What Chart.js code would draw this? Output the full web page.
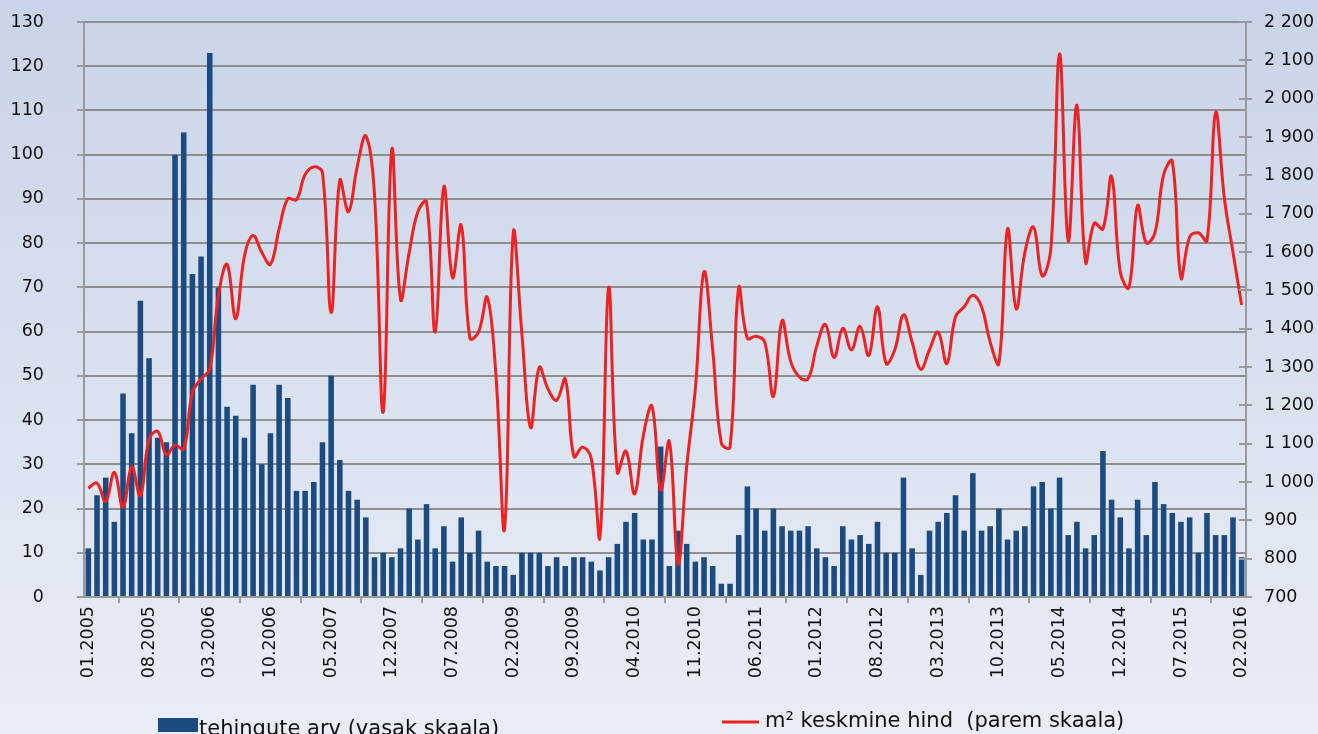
<!DOCTYPE html>
<html>
<head>
<meta charset="utf-8">
<title>Tehingute arv ja m² keskmine hind</title>
<script src="https://cdn.jsdelivr.net/npm/chart.js@4/dist/chart.umd.min.js"></script>
<style>
  html, body { margin: 0; padding: 0; background: #e6eaf4; }
  #wrap { position: relative; width: 1318px; height: 734px; }
</style>
</head>
<body>
<div id="wrap"><canvas id="chart" width="1318" height="734"></canvas></div>
<script>
// Monthly series 01.2005 .. 02.2016 (134 months)
const START_YEAR = 2005;
const MONTH_COUNT = 134;
const LABEL_STEP = 7; // every 7th month gets a label

const months = [];
for (let i = 0; i < MONTH_COUNT; i++) {
  const m = (i % 12) + 1;
  const y = START_YEAR + Math.floor(i / 12);
  months.push(String(m).padStart(2, '0') + '.' + y);
}

// tehingute arv (left scale)
const dealCounts = [
  11, 23, 27, 17, 46, 37, 67, 54, 36, 35, 100, 105, 73, 77, 123, 70, 43, 41, 36, 48,
  30, 37, 48, 45, 24, 24, 26, 35, 50, 31, 24, 22, 18, 9, 10, 9, 11, 20, 13, 21,
  11, 16, 8, 18, 10, 15, 8, 7, 7, 5, 10, 10, 10, 7, 9, 7, 9, 9, 8, 6,
  9, 12, 17, 19, 13, 13, 34, 7, 15, 12, 8, 9, 7, 3, 3, 14, 25, 20, 15, 20,
  16, 15, 15, 16, 11, 9, 7, 16, 13, 14, 12, 17, 10, 10, 27, 11, 5, 15, 17, 19,
  23, 15, 28, 15, 16, 20, 13, 15, 16, 25, 26, 20, 27, 14, 17, 11, 14, 33, 22, 18,
  11, 22, 14, 26, 21, 19, 17, 18, 10, 19, 14, 14, 18, 9
];

// m² keskmine hind (right scale)
const avgPrice = [
  984, 997, 949, 1025, 934, 1040, 964, 1111, 1132, 1071, 1096, 1086, 1233, 1269, 1294, 1487, 1568, 1426, 1589, 1643,
  1599, 1568, 1660, 1739, 1736, 1802, 1822, 1807, 1442, 1787, 1705, 1822, 1903, 1750, 1182, 1868, 1477, 1599, 1705, 1731,
  1391, 1771, 1533, 1670, 1375, 1391, 1482, 1280, 878, 1650, 1386, 1142, 1299, 1243, 1213, 1269, 1066, 1091, 1061, 857,
  1507, 1025, 1081, 969, 1121, 1198, 979, 1106, 786, 1040, 1243, 1548, 1345, 1101, 1091, 1507, 1375, 1380, 1365, 1223,
  1421, 1314, 1274, 1269, 1355, 1411, 1325, 1401, 1345, 1406, 1330, 1457, 1309, 1345, 1436, 1365, 1294, 1345, 1391, 1309,
  1431, 1457, 1487, 1457, 1365, 1309, 1660, 1452, 1599, 1665, 1538, 1609, 2117, 1629, 1983, 1573, 1675, 1660, 1797, 1548,
  1507, 1721, 1624, 1650, 1802, 1837, 1533, 1639, 1650, 1629, 1964, 1741, 1599, 1462
];

const LEFT_MIN = 0, LEFT_MAX = 130, LEFT_STEP = 10;
const RIGHT_MIN = 700, RIGHT_MAX = 2200, RIGHT_STEP = 100;

const BAR_COLOR = '#1b4b80';
const LINE_COLOR = '#ee2222';
const GRID_COLOR = '#8e8e8e';
const AXIS_COLOR = '#9a9a9a';
const TEXT_COLOR = '#111111';
const FONT = 'DejaVu Sans, Verdana, sans-serif';

// "2 200" style thousands separator
const formatThousands = (v) => {
  if (v < 1000) return String(v);
  return Math.floor(v / 1000) + ' ' + String(v % 1000).padStart(3, '0');
};

// Soft vertical gradient behind the whole picture
const backgroundPlugin = {
  id: 'bgGradient',
  beforeDraw(chart) {
    const { ctx, width, height } = chart;
    const g = ctx.createLinearGradient(0, 0, 0, height);
    g.addColorStop(0, '#c9d4e8');
    g.addColorStop(1, '#e9edf6');
    ctx.save();
    ctx.fillStyle = g;
    ctx.fillRect(0, 0, width, height);
    ctx.restore();
  }
};

// Right axis ticks cross the axis line: add the inner half
const crossTicksPlugin = {
  id: 'crossTicks',
  afterDraw(chart) {
    const scale = chart.scales.yRight;
    const { ctx } = chart;
    ctx.save();
    ctx.strokeStyle = AXIS_COLOR;
    ctx.lineWidth = 2;
    scale.ticks.forEach((t, i) => {
      const y = Math.round(scale.getPixelForTick(i));
      ctx.beginPath();
      ctx.moveTo(scale.left - 7, y);
      ctx.lineTo(scale.left, y);
      ctx.stroke();
    });
    ctx.restore();
  }
};

// Legend along the bottom edge, two items spread apart (bar item sits a bit lower)
const legendPlugin = {
  id: 'bottomLegend',
  afterDraw(chart) {
    const { ctx } = chart;
    const sets = chart.data.datasets;
    const bar = sets.find(d => d.type === 'bar');
    const line = sets.find(d => d.type === 'line');
    ctx.save();
    ctx.font = '21px ' + FONT;
    ctx.textBaseline = 'alphabetic';

    ctx.fillStyle = bar.backgroundColor;
    ctx.fillRect(158, 718, 40, 14);
    ctx.fillStyle = TEXT_COLOR;
    ctx.fillText(bar.label, 199, 735);

    ctx.strokeStyle = line.borderColor;
    ctx.lineWidth = 3;
    ctx.beginPath();
    ctx.moveTo(722, 722);
    ctx.lineTo(759, 722);
    ctx.stroke();
    ctx.fillText(line.label, 765, 727);
    ctx.restore();
  }
};

// Fixed axis boxes so the plot area lands where the reference has it
const fitVertical = (width) => (scale) => {
  scale.width = width;
  scale.paddingTop = 0;
  scale.paddingBottom = 0;
};

const ctx = document.getElementById('chart').getContext('2d');

new Chart(ctx, {
  type: 'bar',
  data: {
    labels: months,
    datasets: [
      {
        type: 'line',
        label: 'm² keskmine hind  (parem skaala)',
        data: avgPrice,
        yAxisID: 'yRight',
        borderColor: LINE_COLOR,
        borderWidth: 3,
        pointRadius: 0,
        tension: 0.4,
        fill: false,
        order: 1
      },
      {
        type: 'bar',
        label: 'tehingute arv (vasak skaala)',
        data: dealCounts,
        yAxisID: 'yLeft',
        backgroundColor: BAR_COLOR,
        borderWidth: 0,
        barPercentage: 0.64,
        categoryPercentage: 1.0,
        order: 2
      }
    ]
  },
  options: {
    responsive: false,
    animation: false,
    layout: { padding: { top: 22, left: 0, right: 0, bottom: 0 } },
    plugins: {
      legend: { display: false },
      tooltip: { enabled: false }
    },
    scales: {
      x: {
        type: 'category',
        offset: true,
        grid: {
          offset: true,
          drawOnChartArea: false,
          drawTicks: true,
          tickLength: 6,
          color: AXIS_COLOR,
          lineWidth: 2
        },
        border: { color: AXIS_COLOR, width: 2 },
        ticks: {
          autoSkip: false,
          minRotation: 90,
          maxRotation: 90,
          padding: 3,
          color: TEXT_COLOR,
          font: { size: 17.5, family: FONT },
          callback: function (value, index) {
            return index % LABEL_STEP === 0 ? this.getLabelForValue(value) : null;
          }
        },
        afterFit: (scale) => {
          scale.height = 137;
          scale.paddingLeft = 0;
          scale.paddingRight = 0;
        }
      },
      yLeft: {
        position: 'left',
        min: LEFT_MIN,
        max: LEFT_MAX,
        grid: {
          color: GRID_COLOR,
          lineWidth: 2,
          drawTicks: true,
          tickLength: 7,
          tickColor: AXIS_COLOR
        },
        border: { color: AXIS_COLOR, width: 2 },
        ticks: {
          stepSize: LEFT_STEP,
          padding: 33,
          color: TEXT_COLOR,
          font: { size: 17.5, family: FONT }
        },
        afterFit: fitVertical(84)
      },
      yRight: {
        position: 'right',
        min: RIGHT_MIN,
        max: RIGHT_MAX,
        grid: {
          drawOnChartArea: false,
          drawTicks: true,
          tickLength: 6,
          color: AXIS_COLOR,
          lineWidth: 2
        },
        border: { color: AXIS_COLOR, width: 2 },
        ticks: {
          stepSize: RIGHT_STEP,
          padding: 12,
          color: TEXT_COLOR,
          font: { size: 17.5, family: FONT },
          callback: (v) => formatThousands(v)
        },
        afterFit: fitVertical(72)
      }
    }
  },
  plugins: [backgroundPlugin, crossTicksPlugin, legendPlugin]
});
</script>
</body>
</html>
